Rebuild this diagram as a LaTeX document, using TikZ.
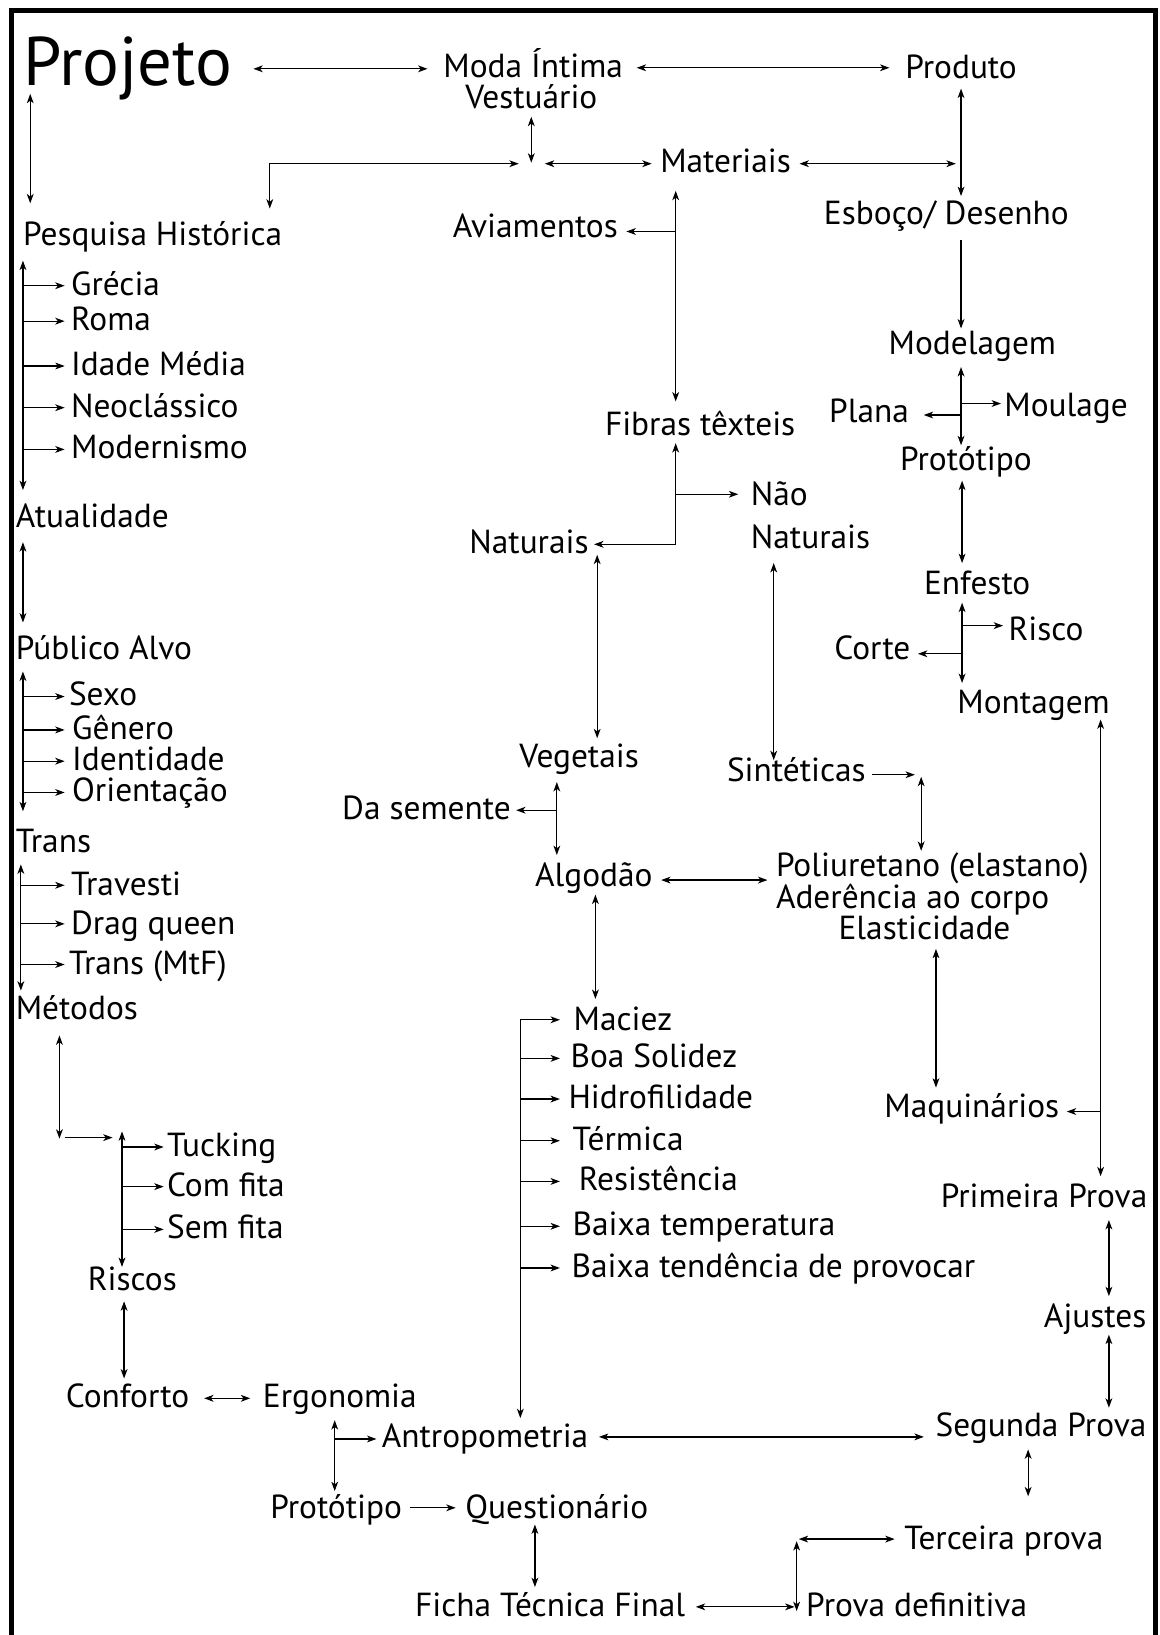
\documentclass[tikz,border=0pt]{standalone}
\usepackage{fontspec}
\newfontfamily\diagfont{PT Sans}
\usetikzlibrary{arrows.meta,calc}
\newcommand{\lblfont}{\diagfont\fontsize{32}{37}\selectfont}
\newcommand{\bigfont}{\diagfont\fontsize{66}{70}\selectfont}

\begin{document}
\begin{tikzpicture}[
    x=1pt, y=-1pt,
    >={Stealth[length=9pt,width=6.5pt,inset=2.5pt]},
    lbl/.style={inner sep=0pt, anchor=base west, font=\lblfont},
    dbl/.style={<->, line width=1.2pt},
    sgl/.style={->, line width=1.2pt},
    borderline/.style={line width=5pt}
]
\useasboundingbox (0,0) rectangle (1112,1568);

% Moldura
\draw[borderline] (11,1575) -- (11,10) -- (1108,10) -- (1108,1575);

% Topo
\node[lbl, font=\bigfont] (projeto) at (22,82) {Projeto};
\node[lbl] (moda) at (425,74) {Moda Íntima};
\node[lbl] (vest) at (446,104) {Vestuário};
\node[lbl] (produto) at (868,75) {Produto};
\node[lbl] (materiais) at (633,165) {Materiais};
\node[lbl] (esboco) at (790,215) {Esboço/ Desenho};
\node[lbl] (aviam) at (434,228) {Aviamentos};

% Coluna esquerda
\node[lbl] (pesq) at (22,235) {Pesquisa Histórica};
\node[lbl] (grecia) at (68,283) {Grécia};
\node[lbl] (roma) at (68,317) {Roma};
\node[lbl] (idade) at (68,360) {Idade Média};
\node[lbl] (neo) at (68,400) {Neoclássico};
\node[lbl] (modern) at (68,440) {Modernismo};
\node[lbl] (atual) at (15,506) {Atualidade};
\node[lbl] (publico) at (15,632) {Público Alvo};
\node[lbl] (sexo) at (66,677) {Sexo};
\node[lbl] (genero) at (69,709) {Gênero};
\node[lbl] (ident) at (69,739) {Identidade};
\node[lbl] (orient) at (69,769) {Orientação};
\node[lbl] (trans) at (15,818) {Trans};
\node[lbl] (travesti) at (68,859) {Travesti};
\node[lbl] (drag) at (68,896) {Drag queen};
\node[lbl] (mtf) at (66,935) {Trans (MtF)};
\node[lbl] (metodos) at (15,978) {Métodos};
\node[lbl] (tucking) at (160,1109) {Tucking};
\node[lbl] (comfita) at (160,1147) {Com fita};
\node[lbl] (semfita) at (160,1188) {Sem fita};
\node[lbl] (riscos) at (84,1238) {Riscos};
\node[lbl] (conforto) at (63,1350) {Conforto};
\node[lbl] (ergonomia) at (252,1350) {Ergonomia};
\node[lbl] (antrop) at (366,1388) {Antropometria};
\node[lbl] (protb) at (259,1456) {Protótipo};
\node[lbl] (quest) at (446,1456) {Questionário};
\node[lbl] (ficha) at (398,1550) {Ficha Técnica Final};

% Coluna central
\node[lbl] (fibras) at (580,418) {Fibras têxteis};
\node[lbl] (nao) at (720,485) {Não};
\node[lbl] (naonat) at (720,526) {Naturais};
\node[lbl] (naturais) at (450,531) {Naturais};
\node[lbl] (vegetais) at (498,736) {Vegetais};
\node[lbl] (sinteticas) at (697,749) {Sintéticas};
\node[lbl] (dasemente) at (328,786) {Da semente};
\node[lbl] (algodao) at (513,850) {Algodão};
\node[lbl] (poli1) at (744,841) {Poliuretano (elastano)};
\node[lbl] (poli2) at (744,871) {Aderência ao corpo};
\node[lbl] (poli3) at (804,901) {Elasticidade};
\node[lbl] (maciez) at (550,988) {Maciez};
\node[lbl] (boa) at (547,1024) {Boa Solidez};
\node[lbl] (hidro) at (545,1063) {Hidrofilidade};
\node[lbl] (termica) at (549,1103) {Térmica};
\node[lbl] (resist) at (555,1142) {Resistência};
\node[lbl] (baixatemp) at (549,1185) {Baixa temperatura};
\node[lbl] (baixatend) at (548,1225) {Baixa tendência de provocar};

% Coluna direita
\node[lbl] (modelagem) at (852,340) {Modelagem};
\node[lbl] (plana) at (795,405) {Plana};
\node[lbl] (moulage) at (963,399) {Moulage};
\node[lbl] (protu) at (863,451) {Protótipo};
\node[lbl] (enfesto) at (886,570) {Enfesto};
\node[lbl] (risco) at (967,614) {Risco};
\node[lbl] (corte) at (800,632) {Corte};
\node[lbl] (montagem) at (918,684) {Montagem};
\node[lbl] (maquin) at (848,1072) {Maquinários};
\node[lbl] (primeira) at (902,1158) {Primeira Prova};
\node[lbl] (ajustes) at (1001,1273) {Ajustes};
\node[lbl] (segunda) at (897,1378) {Segunda Prova};
\node[lbl] (terceira) at (867,1486) {Terceira prova};
\node[lbl] (provadef) at (773,1550) {Prova definitiva};

% Pontos de encontro
\path (vest.base) ++(0,53) coordinate (hub);
\coordinate (synj) at ($(sinteticas.base east)+(53,-6)$);
\coordinate (brk) at ($(maciez.base west)+(-51,-10)$);
\coordinate (tj) at ($(provadef.base west |- terceira.base)+(-9,-10)$);

% Setas do topo
\draw[dbl] ($(projeto.base east)+(20,-16)$) -- ($(moda.base west)+(-15,-8)$);
\draw[dbl] ($(moda.base east)+(13,-9)$) -- ($(produto.base west)+(-15,-10)$);
\draw[dbl] ($(projeto.base west)+(7,8)$) -- ($(pesq.base west)+(7,-40)$);
\draw[dbl] ($(vest.base)+(0,8)$) -- ($(hub)+(0,-1)$);
\draw[dbl] ($(hub)+(-12,0)$) -| ($(pesq.base east)+(-12,-35)$);
\draw[dbl] ($(hub)+(13,0)$) -- ($(hub -| materiais.base west)+(-8,0)$);
\draw[dbl] ($(materiais.base east)+(8,-8)$) -- ($(materiais.base east -| produto.base)+(-5,-8)$);
\draw[dbl] ($(produto.base)+(0,10)$) -- ($(esboco.base -| produto.base)+(0,-27)$);
\draw[sgl] ($(esboco.base -| produto.base)+(0,15)$) -- ($(modelagem.base -| produto.base)+(0,-25)$);

% Materiais e fibras
\draw[dbl] ($(materiais.base west)+(15,18)$) -- ($(materiais.base west |- fibras.base)+(15,-33)$);
\draw[sgl] ($(materiais.base west |- aviam.base)+(15,-6)$) -- ($(aviam.base east)+(8,-6)$);
\draw[dbl] ($(materiais.base west |- fibras.base)+(15,7)$) |- ($(naturais.base east)+(5,-9)$);
\draw[sgl] ($(materiais.base west |- nao.base)+(15,-11)$) -- ($(nao.base west)+(-12,-11)$);
\draw[dbl] ($(naturais.base east)+(8,1)$) -- ($(naturais.base east |- vegetais.base)+(8,-28)$);
\draw[dbl] ($(naonat.base west)+(22,14)$) -- ($(naonat.base west |- sinteticas.base)+(22,-20)$);
\draw[sgl] ($(sinteticas.base east)+(6,-6)$) -- ($(synj)+(-6,0)$);
\draw[dbl] ($(synj)+(0,2)$) -- ($(synj |- poli1.base)+(0,-25)$);
\draw[dbl] ($(vegetais.base west)+(36,14)$) -- ($(vegetais.base west |- algodao.base)+(36,-30)$);
\draw[sgl] ($(vegetais.base west |- dasemente.base)+(36,-9)$) -- ($(dasemente.base east)+(5,-9)$);
\draw[dbl] ($(algodao.base east)+(8,-6)$) -- ($(algodao.base east -| poli1.base west)+(-8,-6)$);
\draw[dbl] ($(algodao.base west)+(58,8)$) -- ($(algodao.base west |- maciez.base)+(58,-30)$);
\draw[dbl] ($(poli3.base)+(11,9)$) -- ($(poli3.base |- maquin.base)+(11,-29)$);

% Propriedades do algodao
\draw[dbl] ($(brk)+(38,0)$) -| ($(brk |- antrop.base)+(0,-28)$);
\foreach \n in {boa,hidro,termica,resist,baixatemp,baixatend}
  \draw[sgl] ($(brk |- \n.base)+(0,-9)$) -- ($(brk |- \n.base)+(38,-9)$);

% Pesquisa historica
\draw[dbl] ($(pesq.base west)+(0,15)$) -- ($(pesq.base west |- atual.base)+(0,-36)$);
\foreach \n in {grecia,roma,idade,neo,modern}
  \draw[sgl] ($(pesq.base west |- \n.base)+(0,-9)$) -- ($(\n.base west)+(-6,-9)$);
\draw[dbl] ($(atual.base west)+(7,14)$) -- ($(atual.base west |- publico.base)+(7,-35)$);

% Publico alvo
\draw[dbl] ($(publico.base west)+(7,12)$) -- ($(publico.base west |- trans.base)+(7,-40)$);
\foreach \n in {sexo,genero,ident,orient}
  \draw[sgl] ($(publico.base west |- \n.base)+(7,-9)$) -- ($(publico.base west |- \n.base)+(47,-9)$);

% Trans
\draw[dbl] ($(trans.base west)+(5,11)$) -- ($(trans.base west |- metodos.base)+(5,-28)$);
\foreach \n in {travesti,drag,mtf}
  \draw[sgl] ($(trans.base west |- \n.base)+(5,-10)$) -- ($(trans.base west |- \n.base)+(47,-10)$);

% Metodos
\draw[dbl] ($(metodos.base west)+(42,15)$) -- ($(metodos.base west |- tucking.base)+(42,-17)$);
\draw[sgl] ($(metodos.base west |- tucking.base)+(47,-18)$) -- ($(tucking.base west)+(-52,-18)$);
\draw[dbl] ($(tucking.base west)+(-43,-24)$) -- ($(tucking.base west |- riscos.base)+(-43,-23)$);
\foreach \n in {tucking,comfita,semfita}
  \draw[sgl] ($(tucking.base west |- \n.base)+(-43,-9)$) -- ($(\n.base west)+(-3,-9)$);
\draw[dbl] ($(riscos.base west)+(35,10)$) -- ($(riscos.base west |- conforto.base)+(35,-28)$);
\draw[dbl] ($(conforto.base east)+(14,-9)$) -- ($(ergonomia.base west)+(-12,-9)$);

% Ergonomia
\draw[dbl] ($(ergonomia.base west)+(69,12)$) -- ($(ergonomia.base west |- protb.base)+(69,-26)$);
\draw[sgl] ($(ergonomia.base west |- antrop.base)+(69,-8)$) -- ($(antrop.base west)+(-5,-8)$);
\draw[sgl] ($(protb.base east)+(7,-10)$) -- ($(quest.base west)+(-9,-10)$);
\draw[dbl] ($(quest.base west)+(67,6)$) -- ($(quest.base west |- ficha.base)+(67,-28)$);
\draw[dbl] ($(ficha.base east)+(10,-9)$) -- ($(provadef.base west)+(-11,-9)$);
\draw[dbl] ($(antrop.base east)+(10,-10)$) -- ($(antrop.base east -| segunda.base west)+(-11,-10)$);

% Modelagem ate montagem
\draw[dbl] ($(modelagem.base -| produto.base)+(0,12)$) -- ($(protu.base -| produto.base)+(0,-24)$);
\draw[sgl] ($(produto.base |- moulage.base)+(0,-12)$) -- ($(moulage.base west)+(-3,-12)$);
\draw[sgl] ($(produto.base |- plana.base)+(0,-7)$) -- ($(plana.base east)+(14,-7)$);
\draw[dbl] ($(protu.base -| produto.base)+(1,10)$) -- ($(enfesto.base -| produto.base)+(1,-30)$);
\draw[dbl] ($(enfesto.base -| produto.base)+(1,8)$) -- ($(montagem.base -| produto.base)+(1,-29)$);
\draw[sgl] ($(produto.base |- risco.base)+(1,-14)$) -- ($(risco.base west)+(-5,-14)$);
\draw[sgl] ($(produto.base |- corte.base)+(1,-5)$) -- ($(corte.base east)+(7,-5)$);

% Provas
\draw[dbl] ($(montagem.base east)+(-9,6)$) -- ($(montagem.base east |- primeira.base)+(-9,-30)$);
\draw[sgl] ($(montagem.base east |- maquin.base)+(-9,-6)$) -- ($(maquin.base east)+(7,-6)$);
\draw[dbl] ($(primeira.base east)+(-37,12)$) -- ($(primeira.base east |- ajustes.base)+(-37,-30)$);
\draw[dbl] ($(primeira.base east |- ajustes.base)+(-37,7)$) -- ($(primeira.base east |- segunda.base)+(-37,-28)$);
\draw[dbl] ($(segunda.base west)+(89,12)$) -- ($(segunda.base west |- terceira.base)+(89,-51)$);
\draw[dbl] ($(tj)+(2,0)$) -- ($(terceira.base west)+(-9,-10)$);
\draw[dbl] ($(tj)+(0,2)$) -- ($(tj |- provadef.base)+(0,-5)$);

\end{tikzpicture}
\end{document}
